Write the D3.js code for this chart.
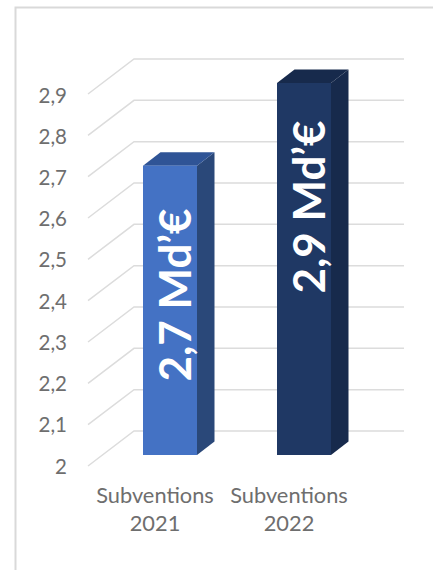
<!DOCTYPE html>
<html lang="fr">
<head>
<meta charset="UTF-8">
<title>Subventions</title>
<script src="https://d3js.org/d3.v7.min.js"></script>
<style>
  html, body { margin: 0; padding: 0; background: #fff; }
  svg { display: block; }
  text { font-family: Lato, sans-serif; }
  .domain { display: none; }
  .tick line { display: none; }
  .tick text { fill: #6e6e6e; font-size: 20.5px; font-family: Lato, sans-serif; }
</style>
</head>
<body>
<svg id="chart" width="433" height="570"></svg>
<script>
const categories = ["Subventions 2021", "Subventions 2022"];
const values = [2.7, 2.9];
const barLabels = ["2,7 Md’€", "2,9 Md’€"];
const tickValues = [2, 2.1, 2.2, 2.3, 2.4, 2.5, 2.6, 2.7, 2.8, 2.9];
const frontColors = ["#4472c4", "#1f3864"];
const topColors = ["#2f5496", "#172a4c"];
const sideColors = ["#2a4879", "#172a4c"];

const svg = d3.select("#chart");

// frame cut off by the screenshot on the right and bottom
svg.append("path")
  .attr("d", "M15.5,570V7.5H433")
  .attr("fill", "none")
  .attr("stroke", "#d9d9d9")
  .attr("stroke-width", 2);

const y = d3.scaleLinear().domain([2, 2.9]).range([455, 83]);
const x = d3.scaleBand().domain(categories).range([103, 371]).paddingInner(0.597).paddingOuter(0.2985);

// fake 3D offsets
const floorLeft = 88, floorBack = 134, wallRight = 404;
const frontDrop = 11, backRise = 24;
const depthX = 17.5, depthY = 13.5;

// gridlines run from the front of the floor to the back wall
svg.append("g").selectAll("path")
  .data(tickValues)
  .join("path")
  .attr("d", d => `M${floorLeft},${y(d) + frontDrop}L${floorBack},${y(d) - backRise}H${wallRight}`)
  .attr("fill", "none")
  .attr("stroke", "#dcdcdc")
  .attr("stroke-width", 1.5);

const axis = d3.axisLeft(y.copy().range([466.5, 95.5]))
  .tickValues(tickValues)
  .tickSize(0)
  .tickPadding(0)
  .tickFormat(d => String(d).replace(".", ","));
svg.append("g").attr("transform", "translate(67,0)").call(axis);

const bars = svg.append("g").selectAll("g")
  .data(categories)
  .join("g");

bars.append("path")
  .attr("fill", (d, i) => sideColors[i])
  .attr("d", (d, i) => {
    const r = x(d) + x.bandwidth();
    return `M${r},${y(values[i])}l${depthX},${-depthY}V${y(2) - depthY}l${-depthX},${depthY}Z`;
  });

bars.append("path")
  .attr("fill", (d, i) => topColors[i])
  .attr("d", (d, i) => {
    return `M${x(d)},${y(values[i])}l${depthX},${-depthY}h${x.bandwidth()}l${-depthX},${depthY}Z`;
  });

bars.append("rect")
  .attr("x", d => x(d))
  .attr("width", x.bandwidth())
  .attr("y", (d, i) => y(values[i]))
  .attr("height", (d, i) => y(2) - y(values[i]))
  .attr("fill", (d, i) => frontColors[i]);

bars.append("text")
  .attr("transform", (d, i) => `translate(${x(d) + x.bandwidth() / 2 + 4},${i ? 207 : 295}) rotate(-90)`)
  .attr("text-anchor", "middle")
  .attr("dominant-baseline", "central")
  .attr("fill", "#fff")
  .attr("font-size", 44)
  .attr("font-weight", 700)
  .text((d, i) => barLabels[i]);

// category labels on two lines, shifted left of the bars like the original
const catLabels = svg.append("g").selectAll("text")
  .data(categories)
  .join("text")
  .attr("text-anchor", "middle")
  .attr("fill", "#6e6e6e")
  .attr("font-size", 21.8);

catLabels.selectAll("tspan")
  .data((d) => d.split(" ").map(t => ({ t, cat: d })))
  .join("tspan")
  .attr("x", d => x(d.cat) + x.bandwidth() / 2 - 15)
  .attr("y", (d, i) => 503 + i * 28)
  .text(d => d.t);
</script>
</body>
</html>
